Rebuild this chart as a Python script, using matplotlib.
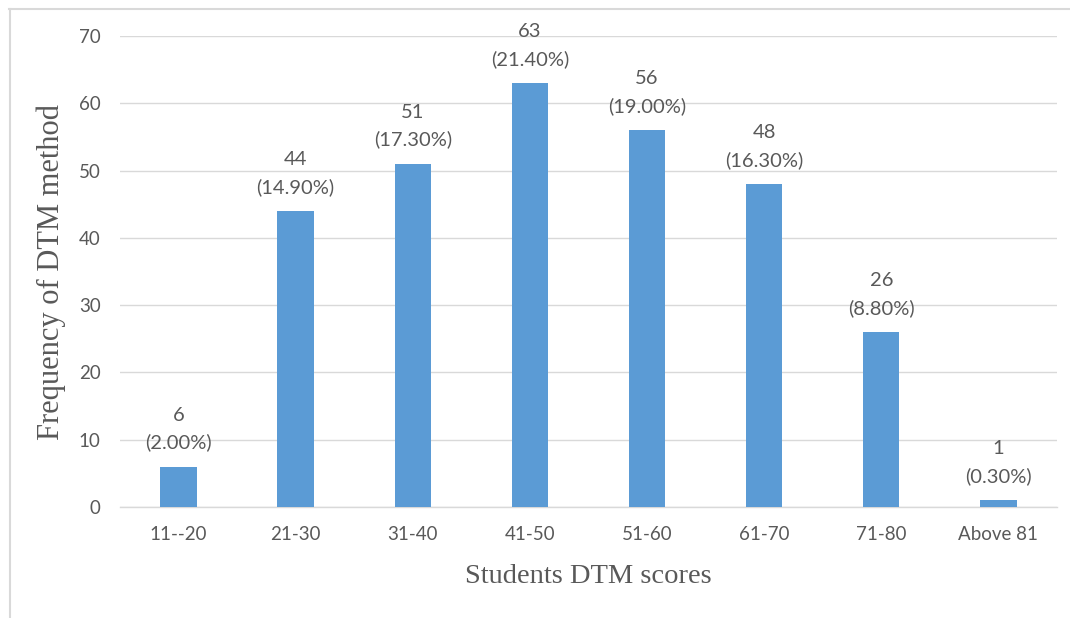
import matplotlib
matplotlib.use("Agg")
import matplotlib.pyplot as plt
from matplotlib.lines import Line2D

categories = ["11--20", "21-30", "31-40", "41-50", "51-60", "61-70", "71-80", "Above 81"]
frequencies = [6, 44, 51, 63, 56, 48, 26, 1]
percentages = ["2.00%", "14.90%", "17.30%", "21.40%", "19.00%", "16.30%", "8.80%", "0.30%"]
y_ticks = [0, 10, 20, 30, 40, 50, 60, 70]

bar_color = "#5B9BD5"
text_color = "#595959"
grid_color = "#D9D9D9"

fig = plt.figure(figsize=(10.70, 6.18), dpi=100)
ax = fig.add_axes([0.1121, 0.1796, 0.8757, 0.7621])

x = list(range(len(categories)))
bars = ax.bar(x, frequencies, width=0.31, color=bar_color, zorder=3)

ax.set_xlim(-0.5, len(categories) - 0.5)
ax.set_ylim(0, 70)
ax.set_yticks(y_ticks)
ax.set_xticks(x)
ax.set_xticklabels(categories)

ax.yaxis.grid(True, color=grid_color, linewidth=1.0, zorder=0)
ax.set_axisbelow(True)
for s in ["top", "right", "left"]:
    ax.spines[s].set_visible(False)
ax.spines["bottom"].set_color(grid_color)
ax.spines["bottom"].set_linewidth(1.0)

ax.tick_params(axis="both", length=0, labelsize=13.5, labelcolor=text_color)
ax.tick_params(axis="y", pad=14)
ax.tick_params(axis="x", pad=14)
for lbl in ax.get_xticklabels() + ax.get_yticklabels():
    lbl.set_family("Lato")

for xi, v, p in zip(x, frequencies, percentages):
    ax.annotate(f"{v}\n({p})", xy=(xi, v), xytext=(0, 11), textcoords="offset points",
                ha="center", va="bottom", fontsize=14.5, color=text_color,
                family="Lato", linespacing=1.65, annotation_clip=False)

ax.set_xlabel("Students DTM scores", family="Liberation Serif", fontsize=20.5,
              color=text_color, labelpad=15)
ax.set_ylabel("Frequency of DTM method", family="Liberation Serif", fontsize=22,
              color=text_color, labelpad=9)

# outer frame lines (top and left)
fig.add_artist(Line2D([9 / 1070, 1.0], [1 - 8.5 / 618, 1 - 8.5 / 618],
                      transform=fig.transFigure, color="#D9D9D9", linewidth=1.5))
fig.add_artist(Line2D([9.5 / 1070, 9.5 / 1070], [0.0, 1 - 8.5 / 618],
                      transform=fig.transFigure, color="#D9D9D9", linewidth=1.5))

fig.savefig("out.png", dpi=100)
